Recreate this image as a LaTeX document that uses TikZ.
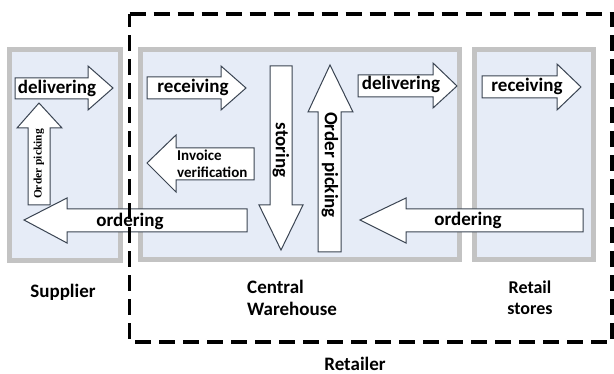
\documentclass[tikz,border=0pt]{standalone}
\usepackage{fontspec}
\setmainfont{Carlito}
\newfontfamily\smallserif{Liberation Serif}
\usepackage{xcolor}

\definecolor{panelfill}{HTML}{E6ECF7}
\definecolor{panelline}{HTML}{C3C3C3}
\definecolor{arrowline}{HTML}{3A4452}

\begin{document}
\begin{tikzpicture}[x=1pt, y=-1pt,
  panel/.style={draw=panelline, line width=5pt, fill=panelfill},
  flow/.style={draw=arrowline, line width=1pt, fill=white, line join=miter},
  lbl/.style={inner sep=0pt, font=\fontsize{19}{22}\selectfont\bfseries},
  smalllbl/.style={inner sep=0pt, align=left, font=\fontsize{15}{17}\selectfont\bfseries},
  caption/.style={inner sep=0pt, font=\fontsize{19}{22}\selectfont\bfseries}]

\useasboundingbox (0,0) rectangle (614,374);

% the three sites
\draw[panel] (9.5,49.5) rectangle (120.5,260.5);
\draw[panel] (140.5,49.5) rectangle (459.5,259.5);
\draw[panel] (474.5,49.5) rectangle (593.5,259.5);

% supplier
\draw[flow] (15,78) -- (88,78) -- (88,66) -- (113,88) -- (88,110) -- (88,99) -- (15,99) -- cycle;
\node (supdeliver) [lbl] at (57,88) {delivering};
\draw[flow] (28,205) -- (28,128) -- (17,128) -- (39,103) -- (62,128) -- (50,128) -- (50,205) -- cycle;
\node (suppick) [inner sep=0pt, rotate=90, font=\smallserif\fontsize{11.5}{13}\selectfont\bfseries] at (39,164) {Order picking};

% central warehouse
\draw[flow] (147,77) -- (221,77) -- (221,66) -- (246,88) -- (221,110) -- (221,99) -- (147,99) -- cycle;
\node (cwreceive) [lbl] at (193,87) {receiving};
\draw[flow] (254,148) -- (176,148) -- (176,135) -- (147,163) -- (176,192) -- (176,180) -- (254,180) -- cycle;
\node (invoice) [smalllbl, anchor=west] at (177,164) {Invoice\\verification};
\draw[flow] (270,66) -- (292,66) -- (292,205) -- (303,205) -- (281,250) -- (259,205) -- (270,205) -- cycle;
\node (storing) [lbl, rotate=-90] at (281,150) {storing};
\draw[flow] (318,252) -- (318,112) -- (308,112) -- (330,65) -- (353,112) -- (341,112) -- (341,252) -- cycle;
\node (cwpick) [lbl, rotate=-90] at (330,165) {Order picking};
\draw[flow] (358,75) -- (433,75) -- (433,63) -- (457,86) -- (433,108) -- (433,97) -- (358,97) -- cycle;
\node (cwdeliver) [lbl] at (401,84) {delivering};

% retail stores
\draw[flow] (482,76) -- (557,76) -- (557,64) -- (581,87) -- (557,110) -- (557,98) -- (482,98) -- cycle;
\node (rsreceive) [lbl] at (527,86) {receiving};

% orders back upstream
\draw[flow] (583,209) -- (406,209) -- (406,198) -- (360,220) -- (406,243) -- (406,232) -- (583,232) -- cycle;
\node (rsorder) [lbl] at (468,220) {ordering};
\draw[flow] (247,209) -- (67,209) -- (67,198) -- (24,220) -- (67,243) -- (67,232) -- (247,232) -- cycle;
\node (cworder) [lbl] at (130,221) {ordering};

% retailer boundary
\draw[line width=3.5pt, dash pattern=on 16pt off 8pt] (129.5,14) -- (612,14) -- (612,342) -- (129.5,342) -- cycle;

% captions
\node (supplier) [caption] at (63,292) {Supplier};
\node (warehouse) [caption, align=left, anchor=west] at (247,298) {Central\\Warehouse};
\node (stores) [caption, align=center, font=\fontsize{18}{21}\selectfont\bfseries] at (530,298) {Retail\\stores};
\node (retailer) [caption] at (355,364) {Retailer};

\end{tikzpicture}
\end{document}
